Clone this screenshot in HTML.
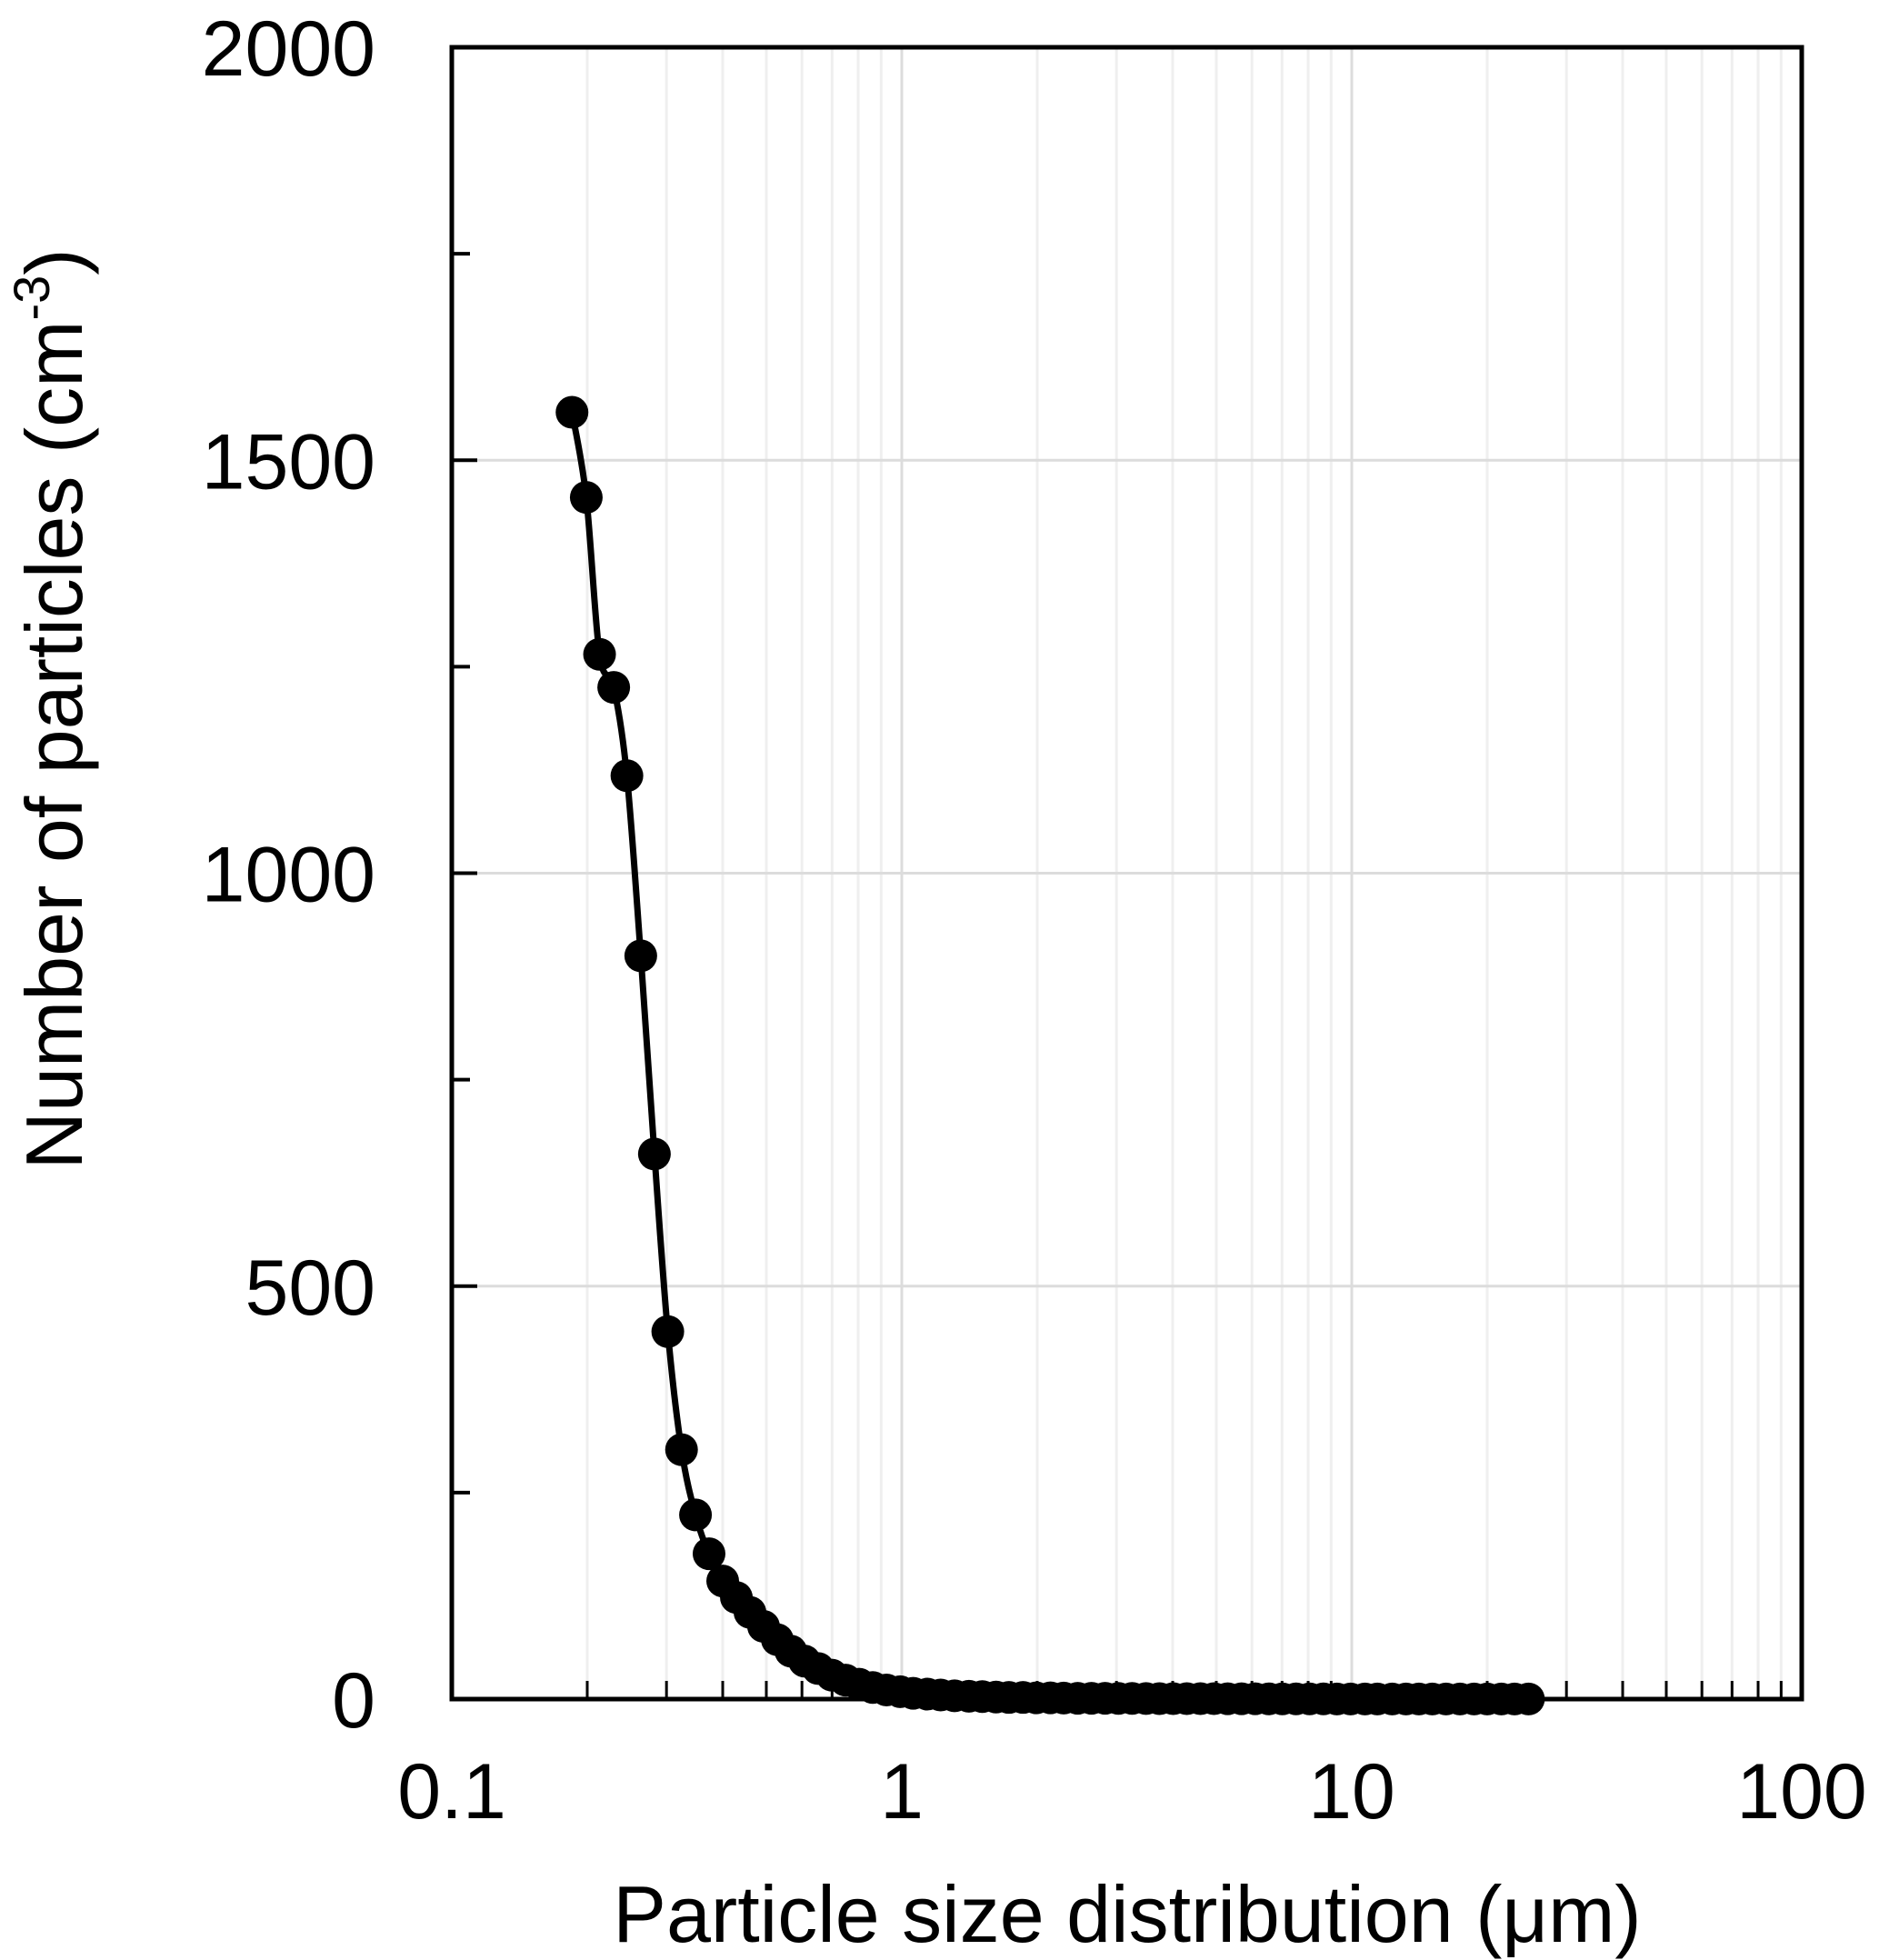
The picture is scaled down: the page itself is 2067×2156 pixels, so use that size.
<!DOCTYPE html>
<html><head><meta charset="utf-8"><style>
html,body{margin:0;padding:0;background:#fff;}
svg{display:block;font-family:"Liberation Sans",Arial,sans-serif;}
</style></head><body>
<svg id="chart" width="2067" height="2156" viewBox="0 0 2067 2156" xmlns="http://www.w3.org/2000/svg">
<g id="grid"></g>
<g id="ticks"></g>
<g id="series"></g>
<rect x="497" y="52" width="1485" height="1817" fill="none" stroke="#000" stroke-width="5"/>
<g id="labels" font-size="86" fill="#000"></g>
<text x="1240" y="2136" font-size="88" text-anchor="middle">Particle size distribution (μm)</text>
<text transform="translate(90,780) rotate(-90)" font-size="88" text-anchor="middle">Number of particles (cm<tspan font-size="56" dy="-36">-3</tspan><tspan dy="36">)</tspan></text>
</svg>
<script>
const xValues=[0.185,0.199,0.213,0.229,0.245,0.263,0.282,0.302,0.324,0.348,0.373,0.400,
0.429,0.460,0.493,0.529,0.567,0.608,0.652,0.699,0.750,0.804,0.862,0.925,
0.992,1.06,1.14,1.22,1.31,1.41,1.51,1.62,1.73,1.86,1.99,2.14,
2.29,2.46,2.64,2.83,3.03,3.25,3.49,3.74,4.01,4.30,4.61,4.94,
5.30,5.69,6.10,6.54,7.01,7.52,8.06,8.65,9.27,9.94,10.7,11.4,
12.3,13.2,14.1,15.1,16.2,17.4,18.7,20.0,21.5,23.0,24.7];
const yValues=[1558,1455,1265,1225,1118,900,660,445,302,223,176,143,
123,105,88,72,58,46,37,29,23,18,14,11,
9,7,6,5,4,3.5,3,2.5,2,2,1.5,1.5,
1.2,1,1,1,0.8,0.8,0.7,0.6,0.6,0.5,0.5,0.5,
0.4,0.4,0.4,0.3,0.3,0.3,0.3,0.3,0.2,0.2,0.2,0.2,
0.2,0.2,0.2,0.1,0.1,0.1,0.1,0.1,0.1,0.1,0.1];
const yTickLabels=["0","500","1000","1500","2000"];
const yTickValues=[0,500,1000,1500,2000];
const xTickLabels=["0.1","1","10","100"];
const xTickValues=[0.1,1,10,100];

const X0=497,X1=1982,Y0=1869,Y1=52;
const NS="http://www.w3.org/2000/svg";
function xs(v){return X0+(Math.log10(v)+1)/3*(X1-X0);}
function ys(v){return Y0-v/2000*(Y0-Y1);}
function mk(tag,attrs,parent){const e=document.createElementNS(NS,tag);for(const k in attrs)e.setAttribute(k,attrs[k]);parent.appendChild(e);return e;}
const grid=document.getElementById('grid'),ticks=document.getElementById('ticks'),series=document.getElementById('series'),labels=document.getElementById('labels');
for(let d=0.1;d<100;d*=10){for(let m=1;m<10;m++){const v=d*m;const x=xs(v);
 if(m===1&&d<0.2)continue;
 const l=mk('line',{x1:x,x2:x,y1:Y1,y2:Y0,stroke:m===1?'#dcdcdc':'#efefef','stroke-width':3},grid);
 
 
 if(m>1){const t=mk('line',{x1:x,x2:x,y1:Y0,y2:Y0-20,stroke:'#000','stroke-width':3},ticks);
 
 }
}}
for(let v=250;v<2000;v+=250){const y=ys(v);const major=v%500===0;
 if(major){const l=mk('line',{x1:X0,x2:X1,y1:y,y2:y,stroke:'#dcdcdc','stroke-width':3},grid);
 
 }
 const t=mk('line',{x1:X0,x2:X0+(major?28:20),y1:y,y2:y,stroke:'#000','stroke-width':4},ticks);
 
 
}
yTickValues.forEach((v,i)=>{const t=mk('text',{x:413,y:ys(v)+31,'text-anchor':'end'},labels);t.textContent=yTickLabels[i];
 
 });
xTickValues.forEach((v,i)=>{const t=mk('text',{x:xs(v),y:2000,'text-anchor':'middle'},labels);t.textContent=xTickLabels[i];
 
 });
// smooth Catmull-Rom line
const P=xValues.map((v,i)=>[xs(v),ys(yValues[i])]);
let d='M'+P[0][0].toFixed(1)+','+P[0][1].toFixed(1);
for(let i=0;i<P.length-1;i++){const p0=P[i-1]||P[i],p1=P[i],p2=P[i+1],p3=P[i+2]||P[i+1];
 const c1=[p1[0]+(p2[0]-p0[0])/6,p1[1]+(p2[1]-p0[1])/6],c2=[p2[0]-(p3[0]-p1[0])/6,p2[1]-(p3[1]-p1[1])/6];
 d+='C'+c1[0].toFixed(1)+','+c1[1].toFixed(1)+' '+c2[0].toFixed(1)+','+c2[1].toFixed(1)+' '+p2[0].toFixed(1)+','+p2[1].toFixed(1);}
const path=mk('path',{d:d,fill:'none',stroke:'#000','stroke-width':7,'stroke-linejoin':'round'},series);


xValues.forEach((v,i)=>{const c=mk('circle',{cx:xs(v),cy:ys(yValues[i]),r:18,fill:'#000'},series);
 
 });
</script>
</body></html>
